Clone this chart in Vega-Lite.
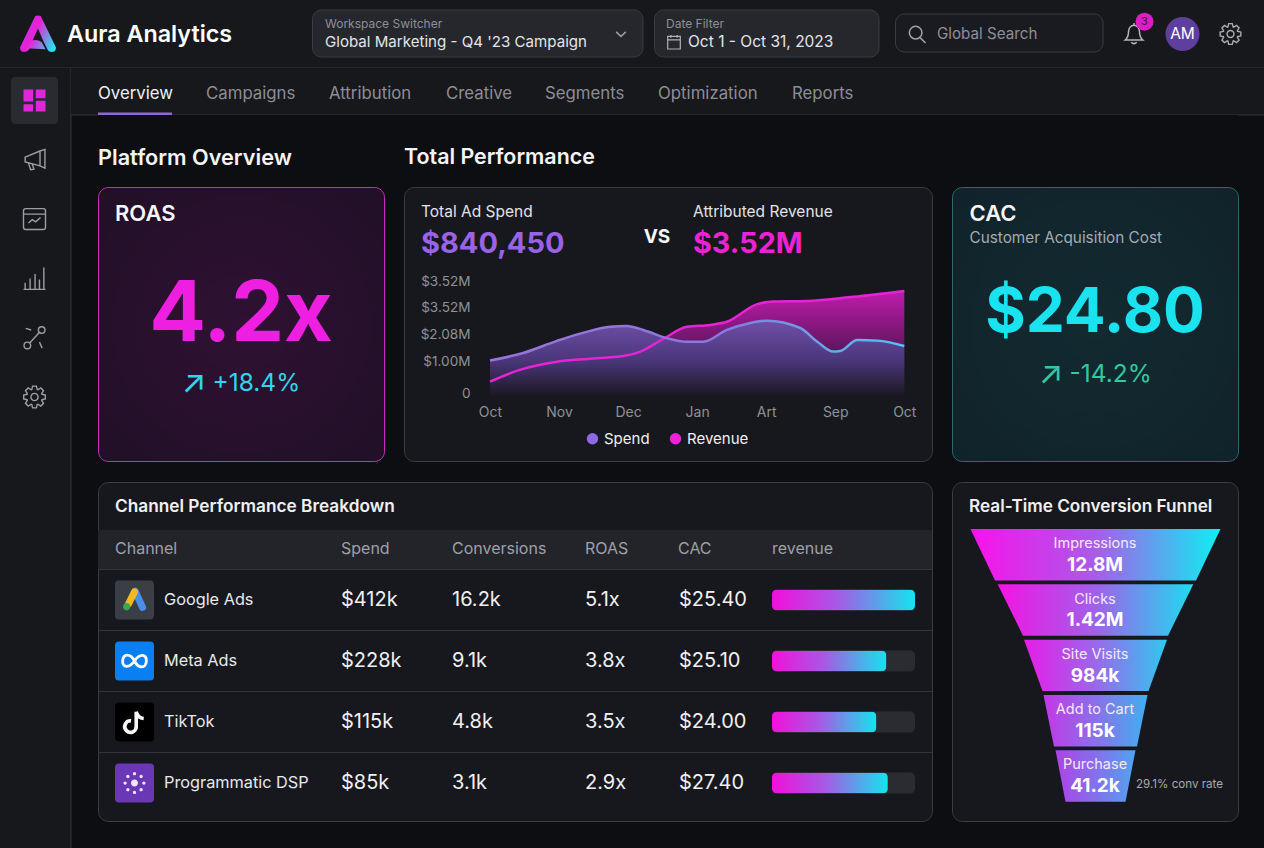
{
"$schema":"https://vega.github.io/schema/vega-lite/v6.json",
"description":"Aura Analytics marketing dashboard",
"background":"#0d0e11",
"padding":{"left":-1,"top":0,"right":0,"bottom":0},
"config":{"font":"Inter","view":{"stroke":null},"text":{"font":"Inter"},"axis":{"labelFont":"Inter"},"legend":{"labelFont":"Inter"}},
"datasets":{
 "series":[
  {"series":"Spend","t":0,"v":1.25},{"series":"Spend","t":0.48,"v":1.52},{"series":"Spend","t":0.97,"v":1.95},{"series":"Spend","t":1.41,"v":2.28},{"series":"Spend","t":1.74,"v":2.45},{"series":"Spend","t":1.98,"v":2.48},{"series":"Spend","t":2.22,"v":2.34},{"series":"Spend","t":2.56,"v":2.05},{"series":"Spend","t":2.85,"v":1.92},{"series":"Spend","t":3.09,"v":1.92},{"series":"Spend","t":3.43,"v":2.34},{"series":"Spend","t":3.77,"v":2.59},{"series":"Spend","t":4.01,"v":2.67},{"series":"Spend","t":4.49,"v":2.41},{"series":"Spend","t":4.74,"v":1.92},{"series":"Spend","t":4.97,"v":1.57},{"series":"Spend","t":5.07,"v":1.59},{"series":"Spend","t":5.32,"v":1.98},{"series":"Spend","t":5.61,"v":1.96},{"series":"Spend","t":6,"v":1.77},
  {"series":"Revenue","t":0,"v":0.5},{"series":"Revenue","t":0.43,"v":0.92},{"series":"Revenue","t":0.97,"v":1.21},{"series":"Revenue","t":1.41,"v":1.31},{"series":"Revenue","t":1.93,"v":1.41},{"series":"Revenue","t":2.17,"v":1.56},{"series":"Revenue","t":2.51,"v":2.02},{"series":"Revenue","t":2.85,"v":2.45},{"series":"Revenue","t":3.19,"v":2.52},{"series":"Revenue","t":3.43,"v":2.63},{"series":"Revenue","t":3.87,"v":3.26},{"series":"Revenue","t":4.1,"v":3.35},{"series":"Revenue","t":4.59,"v":3.37},{"series":"Revenue","t":5.26,"v":3.52},{"series":"Revenue","t":6,"v":3.73}
 ],
 "channels":[
  {"channel":"Google Ads","spend":"$412k","conversions":"16.2k","roas":"5.1x","cac":"$25.40","revenue":100},
  {"channel":"Meta Ads","spend":"$228k","conversions":"9.1k","roas":"3.8x","cac":"$25.10","revenue":80},
  {"channel":"TikTok","spend":"$115k","conversions":"4.8k","roas":"3.5x","cac":"$24.00","revenue":73},
  {"channel":"Programmatic DSP","spend":"$85k","conversions":"3.1k","roas":"2.9x","cac":"$27.40","revenue":81}
 ],
 "funnel":[
  {"stage":"Impressions","depth":0,"left":-125,"right":125},{"stage":"Impressions","depth":0.93,"left":-100.5,"right":100.5},
  {"stage":"Clicks","depth":1,"left":-97.8,"right":97.8},{"stage":"Clicks","depth":1.93,"left":-72.5,"right":72.5},
  {"stage":"Site Visits","depth":2,"left":-71.5,"right":71.5},{"stage":"Site Visits","depth":2.93,"left":-53,"right":53},
  {"stage":"Add to Cart","depth":3,"left":-52,"right":52},{"stage":"Add to Cart","depth":3.93,"left":-41.5,"right":41.5},
  {"stage":"Purchase","depth":4,"left":-40,"right":40},{"stage":"Purchase","depth":4.93,"left":-30,"right":30}
 ],
 "stages":[
  {"stage":"Impressions","value":"12.8M"},{"stage":"Clicks","value":"1.42M"},{"stage":"Site Visits","value":"984k"},{"stage":"Add to Cart","value":"115k"},{"stage":"Purchase","value":"41.2k"}
 ],
 "nav":[{"icon":"dashboard"},{"icon":"campaigns"},{"icon":"charts"},{"icon":"bars"},{"icon":"paths"},{"icon":"settings"}]
},
"bounds":"flush",
"spacing":0,
"resolve":{"scale":{"color":"independent","shape":"independent"}},
"vconcat":[
{
 "width":1264,"height":68,
 "view":{"fill":"#17181c"},
 "resolve":{"scale":{"x":"independent","y":"independent"}},
 "layer":[
  {"data":{"values":[{"k":"line"}]},"mark":{"type":"rule","color":"#33353b"},"encoding":{"y":{"datum":0,"type":"quantitative","scale":{"domain":[0,1]},"axis":null}}},
  {"data":{"values":[{"k":"Workspace"}]},"mark":{"type":"rect","fill":"#25272c","stroke":"#3a3c43","cornerRadius":9},"encoding":{"x":{"field":"k","type":"nominal","scale":{"type":"band","domain":["Workspace"],"range":[312.5,643],"padding":0},"axis":null},"y":{"field":"k","type":"nominal","scale":{"type":"band","domain":["Workspace"],"range":[10,57],"padding":0},"axis":null}}},
  {"data":{"values":[{"k":"Date"}]},"mark":{"type":"rect","fill":"#25272c","stroke":"#3a3c43","cornerRadius":9},"encoding":{"x":{"field":"k","type":"nominal","scale":{"type":"band","domain":["Date"],"range":[654.5,879],"padding":0},"axis":null},"y":{"field":"k","type":"nominal","scale":{"type":"band","domain":["Date"],"range":[10,57],"padding":0},"axis":null}}},
  {"data":{"values":[{"k":"Search"}]},"mark":{"type":"rect","fill":"#1a1b20","stroke":"#3a3c43","cornerRadius":9},"encoding":{"x":{"field":"k","type":"nominal","scale":{"type":"band","domain":["Search"],"range":[895.5,1103],"padding":0},"axis":null},"y":{"field":"k","type":"nominal","scale":{"type":"band","domain":["Search"],"range":[14,52],"padding":0},"axis":null}}},
  {"data":{"values":[{"k":"logo"}]},"mark":{"type":"point","filled":true,"opacity":1,"size":1296,"shape":"M-.15,-1Q0,-1.05 .15,-1L1,.75Q1,1 .75,1Q.6,1 .55,.9L.3,.4L0,-.3L-.3,.35Q0,.3 .2,.45L.42,.85L-.45,.8Q-.6,1 -.75,1Q-1,1 -1,.75Z","color":{"gradient":"linear","x1":0,"y1":0.25,"x2":1,"y2":0.75,"stops":[{"offset":0,"color":"#b43cec"},{"offset":0.4,"color":"#ec1ed8"},{"offset":1,"color":"#22e6ee"}]}},"encoding":{"x":{"field":"k","type":"nominal","scale":{"type":"point","domain":["logo"],"range":[38,38]},"axis":null}}},
  {"data":{"values":[{"k":"chevron"}]},"mark":{"type":"point","filled":false,"opacity":1,"size":144,"shape":"M-.8,-.35L0,.4L.8,-.35","color":"#9a9ca4","strokeWidth":1.5},"encoding":{"x":{"field":"k","type":"nominal","scale":{"type":"point","domain":["chevron"],"range":[621,621]},"axis":null}}},
  {"data":{"values":[{"k":"calendar"}]},"mark":{"type":"point","filled":false,"opacity":1,"size":196,"shape":"M-.9,-.8H.9V1H-.9ZM-.9,-.3H.9M-.45,-1V-.6M.45,-1V-.6","color":"#b0b2b8","strokeWidth":1.2},"encoding":{"x":{"field":"k","type":"nominal","scale":{"type":"point","domain":["calendar"],"range":[674,674]},"axis":null},"y":{"field":"k","type":"nominal","scale":{"type":"point","domain":["calendar"],"range":[42,42]},"axis":null}}},
  {"data":{"values":[{"k":"search"}]},"mark":{"type":"point","filled":false,"opacity":1,"size":324,"shape":"M-.85,-.15A.7,.7 0 1 0 .55,-.15A.7,.7 0 1 0 -.85,-.15ZM.35,.4L.95,1","color":"#a0a2a8","strokeWidth":1.5},"encoding":{"x":{"field":"k","type":"nominal","scale":{"type":"point","domain":["search"],"range":[917,917]},"axis":null}}},
  {"data":{"values":[{"k":"bell"}]},"mark":{"type":"point","filled":false,"opacity":1,"size":484,"shape":"M-.8,.55Q-.5,.3 -.5,-.2A.5,.6 0 0 1 .5,-.2Q.5,.3 .8,.55ZM-.25,.75Q0,1 .25,.75M0,-.8V-1","color":"#b4b6bc","strokeWidth":1.5},"encoding":{"x":{"field":"k","type":"nominal","scale":{"type":"point","domain":["bell"],"range":[1134,1134]},"axis":null}}},
  {"data":{"values":[{"k":"badge"}]},"mark":{"type":"circle","opacity":1,"size":324,"color":"#d91fc4"},"encoding":{"x":{"field":"k","type":"nominal","scale":{"type":"point","domain":["badge"],"range":[1144.5,1144.5]},"axis":null},"y":{"field":"k","type":"nominal","scale":{"type":"point","domain":["badge"],"range":[21.7,21.7]},"axis":null}}},
  {"data":{"values":[{"k":"avatar"}]},"mark":{"type":"circle","opacity":1,"size":1156,"color":"#5f3f9e"},"encoding":{"x":{"field":"k","type":"nominal","scale":{"type":"point","domain":["avatar"],"range":[1182.5,1182.5]},"axis":null}}},
  {"data":{"values":[{"k":"gear"}]},"mark":{"type":"point","filled":false,"opacity":1,"size":441,"shape":"M.677,-.246L.985,-.174L.985,.174L.677,.246L.653,.304L.819,.574L.574,.819L.304,.653L.246,.677L.174,.985L-.174,.985L-.246,.677L-.304,.653L-.574,.819L-.819,.574L-.653,.304L-.677,.246L-.985,.174L-.985,-.174L-.677,-.246L-.653,-.304L-.819,-.574L-.574,-.819L-.304,-.653L-.246,-.677L-.174,-.985L.174,-.985L.246,-.677L.304,-.653L.574,-.819L.819,-.574L.653,-.304ZM-.33,0A.33,.33 0 1 0 .33,0A.33,.33 0 1 0 -.33,0Z","color":"#a8aab0","strokeWidth":1.4},"encoding":{"x":{"field":"k","type":"nominal","scale":{"type":"point","domain":["gear"],"range":[1230.5,1230.5]},"axis":null}}},
  {"data":{"values":[{"t":"Aura Analytics"}]},"mark":{"type":"text","align":"left","dx":-565,"dy":1,"fontSize":23.3,"fontWeight":600,"color":"#ffffff"},"encoding":{"text":{"field":"t"}}},
  {"data":{"values":[{"t":"Workspace Switcher"}]},"mark":{"type":"text","align":"left","dx":-307,"dy":-10.5,"fontSize":12,"color":"#8d8f99"},"encoding":{"text":{"field":"t"}}},
  {"data":{"values":[{"t":"Global Marketing - Q4 '23 Campaign"}]},"mark":{"type":"text","align":"left","dx":-307,"dy":8,"fontSize":15.1,"color":"#e4e5e9"},"encoding":{"text":{"field":"t"}}},
  {"data":{"values":[{"t":"Date Filter"}]},"mark":{"type":"text","align":"left","dx":34,"dy":-10.5,"fontSize":12,"color":"#8d8f99"},"encoding":{"text":{"field":"t"}}},
  {"data":{"values":[{"t":"Oct 1 - Oct 31, 2023"}]},"mark":{"type":"text","align":"left","dx":56,"dy":8,"fontSize":15.5,"color":"#e4e5e9"},"encoding":{"text":{"field":"t"}}},
  {"data":{"values":[{"t":"Global Search"}]},"mark":{"type":"text","align":"left","dx":305,"dy":0,"fontSize":15.2,"color":"#8d8f99"},"encoding":{"text":{"field":"t"}}},
  {"data":{"values":[{"t":"3"}]},"mark":{"type":"text","dx":512.5,"dy":-12,"fontSize":11,"color":"#4a0a46"},"encoding":{"text":{"field":"t"}}},
  {"data":{"values":[{"t":"AM"}]},"mark":{"type":"text","dx":550.5,"fontSize":15.5,"color":"#ffffff"},"encoding":{"text":{"field":"t"}}}
 ]
},
{
 "bounds":"flush","spacing":0,
 "resolve":{"scale":{"color":"independent","shape":"independent"}},
 "hconcat":[
 {
  "width":71,"height":780,
  "view":{"fill":"#17181c"},
  "data":{"name":"nav"},
  "resolve":{"scale":{"x":"independent"}},
  "layer":[
   {"data":{"values":[{"k":"line"}]},"mark":{"type":"rule","color":"#33353b"},"encoding":{"x":{"datum":1,"type":"quantitative","scale":{"domain":[0,1]},"axis":null}}},
   {"transform":[{"filter":"datum.icon == 'dashboard'"}],"mark":{"type":"point","filled":true,"opacity":1,"size":2209,"shape":"M-.8,-1H.8Q1,-1 1,-.8V.8Q1,1 .8,1H-.8Q-1,1 -1,.8V-.8Q-1,-1 -.8,-1Z","color":"#2a2b31"},"encoding":{"x":{"datum":"nav","type":"nominal","scale":{"type":"point","domain":["nav"],"range":[34.5,34.5]},"axis":null},"y":{"field":"icon","type":"nominal","sort":null,"scale":{"type":"point","domain":["dashboard","campaigns","charts","bars","paths","settings"],"range":[32.5,329],"padding":0},"axis":null}}},
   {"transform":[{"filter":"datum.icon == 'dashboard'"}],"mark":{"type":"point","filled":true,"opacity":1,"size":484,"shape":"M-1,-1H-.12V.1H-1ZM.12,-1H1V-.2H.12ZM-1,.33H-.12V1H-1ZM.12,.03H1V1H.12Z","color":"#e026d8"},"encoding":{"x":{"datum":"nav","type":"nominal","scale":{"type":"point","domain":["nav"],"range":[34.5,34.5]},"axis":null},"y":{"field":"icon","type":"nominal","sort":null,"axis":null}}},
   {"transform":[{"filter":"datum.icon != 'dashboard'"}],"mark":{"type":"point","filled":false,"opacity":1,"size":484,"color":"#9c9ea5","strokeWidth":1.4},"encoding":{
     "x":{"datum":"nav","type":"nominal","scale":{"type":"point","domain":["nav"],"range":[34.5,34.5]},"axis":null},
     "y":{"field":"icon","type":"nominal","sort":null,"axis":null},
     "shape":{"field":"icon","type":"nominal","legend":null,"scale":{"domain":["campaigns","charts","bars","paths","settings"],"range":[
      "M-.85,-.25L.5,-.8L.95,-.95V.75L.5,.55L-.85,.2ZM.5,-.8V.55M-.55,.3L-.35,.9L-.05,.85L-.2,.4",
      "M-.8,-.95H.8Q1,-.95 1,-.75V.75Q1,.95 .8,.95H-.8Q-1,.95 -1,.75V-.75Q-1,-.95 -.8,-.95ZM-1,-.45H1M-.55,.35L-.2,.05L.1,.25L.55,-.15",
      "M-1,1H1M-.85,1V.4M-.4,1V0M.05,1V-.4M.45,1V.1M.85,1V-1",
      "M-.95,.7A.3,.3 0 1 0 -.35,.7A.3,.3 0 1 0 -.95,.7ZM.35,-.7A.3,.3 0 1 0 .95,-.7A.3,.3 0 1 0 .35,-.7ZM-.43,.48L.43,-.48M-.8,-.85L-.3,-.7M.45,.4L.7,.95",
      "M.677,-.246L.985,-.174L.985,.174L.677,.246L.653,.304L.819,.574L.574,.819L.304,.653L.246,.677L.174,.985L-.174,.985L-.246,.677L-.304,.653L-.574,.819L-.819,.574L-.653,.304L-.677,.246L-.985,.174L-.985,-.174L-.677,-.246L-.653,-.304L-.819,-.574L-.574,-.819L-.304,-.653L-.246,-.677L-.174,-.985L.174,-.985L.246,-.677L.304,-.653L.574,-.819L.819,-.574L.653,-.304ZM-.33,0A.33,.33 0 1 0 .33,0A.33,.33 0 1 0 -.33,0Z"
     ]}}
   }}
  ]
 },
 {
  "bounds":"flush","spacing":0,
  "resolve":{"scale":{"color":"independent","shape":"independent"}},
  "vconcat":[
  {
   "width":1193,"height":47,
   "view":{"fill":"#17181c"},
   "resolve":{"scale":{"x":"independent","y":"independent"}},
   "layer":[
    {"data":{"values":[{"k":"line"}]},"mark":{"type":"rule","color":"#33353b"},"encoding":{"y":{"datum":0,"type":"quantitative","scale":{"domain":[0,1]},"axis":null}}},
    {"data":{"values":[{"k":"Overview"}]},"mark":{"type":"rect","color":"#8e68d8"},"encoding":{"x":{"field":"k","type":"nominal","scale":{"type":"band","domain":["Overview"],"range":[27,101],"padding":0},"axis":null},"y":{"field":"k","type":"nominal","scale":{"type":"band","domain":["Overview"],"range":[44.5,47],"padding":0},"axis":null}}},
    {"data":{"values":[{"t":"Overview"}]},"mark":{"type":"text","align":"left","dx":-569.5,"dy":2,"fontSize":16.8,"color":"#f0f0f2"},"encoding":{"text":{"field":"t"}}},
    {"data":{"values":[{"t":"Campaigns"}]},"mark":{"type":"text","align":"left","dx":-461.5,"dy":2,"fontSize":16.8,"color":"#8c8e96"},"encoding":{"text":{"field":"t"}}},
    {"data":{"values":[{"t":"Attribution"}]},"mark":{"type":"text","align":"left","dx":-338.5,"dy":2,"fontSize":16.8,"color":"#8c8e96"},"encoding":{"text":{"field":"t"}}},
    {"data":{"values":[{"t":"Creative"}]},"mark":{"type":"text","align":"left","dx":-221.5,"dy":2,"fontSize":16.8,"color":"#8c8e96"},"encoding":{"text":{"field":"t"}}},
    {"data":{"values":[{"t":"Segments"}]},"mark":{"type":"text","align":"left","dx":-122.5,"dy":2,"fontSize":16.8,"color":"#8c8e96"},"encoding":{"text":{"field":"t"}}},
    {"data":{"values":[{"t":"Optimization"}]},"mark":{"type":"text","align":"left","dx":-9.5,"dy":2,"fontSize":16.8,"color":"#8c8e96"},"encoding":{"text":{"field":"t"}}},
    {"data":{"values":[{"t":"Reports"}]},"mark":{"type":"text","align":"left","dx":124.5,"dy":2,"fontSize":16.8,"color":"#8c8e96"},"encoding":{"text":{"field":"t"}}}
   ]
  },
  {
   "bounds":"flush","spacing":26,
   "resolve":{"scale":{"color":"independent","shape":"independent"}},
   "hconcat":[
   {"width":1,"height":1,"data":{"values":[{"t":""}]},"mark":"text","encoding":{"text":{"field":"t"}}},
   {
    "bounds":"full","spacing":0,
    "resolve":{"scale":{"color":"independent","shape":"independent"}},
    "vconcat":[
     {
      "width":1140,"height":70.5,
      "view":{"fill":"#0d0e11"},
      "layer":[
       {"data":{"values":[{"t":"Platform Overview"}]},"mark":{"type":"text","align":"left","dx":-570,"dy":7.5,"fontSize":21.7,"fontWeight":600,"color":"#f4f4f6"},"encoding":{"text":{"field":"t"}}},
       {"data":{"values":[{"t":"Total Performance"}]},"mark":{"type":"text","align":"left","dx":-264,"dy":7.5,"fontSize":21.4,"fontWeight":600,"color":"#f4f4f6"},"encoding":{"text":{"field":"t"}}}
      ]
     },
     {
      "bounds":"flush","spacing":20,
      "resolve":{"scale":{"color":"independent","shape":"independent"}},
      "hconcat":[
      {
       "width":286,"height":274,
       "view":{"fill":{"gradient":"radial","x1":0.5,"y1":0.5,"r1":0,"x2":0.5,"y2":0.5,"r2":0.75,"stops":[{"offset":0,"color":"#2f1133"},{"offset":1,"color":"#1f1025"}]},"stroke":"#c92cbc","cornerRadius":10},
       "layer":[
        {"data":{"values":[{"t":"ROAS"}]},"mark":{"type":"text","align":"left","dx":-126,"dy":-110,"fontSize":22,"fontWeight":600,"color":"#f6f6f8"},"encoding":{"text":{"field":"t"}}},
        {"data":{"values":[{"t":"4.2x"}]},"mark":{"type":"text","dy":-8,"fontSize":84,"fontWeight":700,"color":"#ee1fe0"},"encoding":{"text":{"field":"t"}}},
        {"data":{"values":[{"t":"↗"}]},"mark":{"type":"text","dx":-47,"dy":59,"fontSize":32,"color":"#2fd6ee"},"encoding":{"text":{"field":"t"}}},
        {"data":{"values":[{"t":"+18.4%"}]},"mark":{"type":"text","align":"left","dx":-28.5,"dy":59.5,"fontSize":24.5,"color":"#2fd6ee"},"encoding":{"text":{"field":"t"}}}
       ]
      },
      {
       "width":528,"height":274,
       "view":{"fill":"#17181d","stroke":"#3a3c42","cornerRadius":10},
       "layer":[
        {
         "data":{"name":"series"},
         "encoding":{
          "x":{"field":"t","type":"quantitative","scale":{"domain":[0,6],"range":[86,500.3]},"axis":{"values":[0,1,2,3,4,5,6],"labelExpr":"['Oct','Nov','Dec','Jan','Art','Sep','Oct'][datum.value]","orient":"bottom","offset":-65.3,"title":null,"domain":false,"ticks":false,"grid":false,"labelPadding":10,"labelFontSize":14,"labelColor":"#8f9199","labelFlush":false,"labelOverlap":false}},
          "y":{"field":"v","type":"quantitative","scale":{"domain":[0,4],"range":[208.7,96.3]},"axis":{"values":[0,1.13,2.09,3.06,4],"labelExpr":"datum.value == 0 ? '0' : datum.value < 1.5 ? '$1.00M' : datum.value < 2.5 ? '$2.08M' : '$3.52M'","orient":"left","offset":-66,"title":null,"domain":false,"ticks":false,"grid":false,"labelPadding":0,"labelOffset":-2,"labelFontSize":13.6,"labelColor":"#8f9199","labelOverlap":false}}
         },
         "layer":[
          {"transform":[{"filter":"datum.series == 'Revenue'"}],"mark":{"type":"area","interpolate":"monotone","color":{"gradient":"linear","x1":0,"y1":0,"x2":0,"y2":1,"stops":[{"offset":0,"color":"#c01cac"},{"offset":0.5,"color":"#6a1668"},{"offset":1,"color":"#1a141f"}]}}},
          {"transform":[{"filter":"datum.series == 'Spend'"}],"mark":{"type":"area","interpolate":"monotone","color":{"gradient":"linear","x1":0,"y1":0,"x2":0,"y2":1,"stops":[{"offset":0,"color":"#6f4fa8"},{"offset":0.55,"color":"#4a3578"},{"offset":1,"color":"#1b1822"}]}}},
          {"data":{"values":[{"tick":0},{"tick":1.13},{"tick":2.09},{"tick":3.06},{"tick":4}]},"mark":{"type":"rule","color":"#ffffff","opacity":0.16},"encoding":{"x":{"datum":-0.106,"type":"quantitative"},"x2":{"datum":6},"y":{"field":"tick","type":"quantitative"}}},
          {"transform":[{"filter":"datum.series == 'Revenue'"}],"mark":{"type":"line","interpolate":"monotone","strokeWidth":2.5,"color":"#e624d6"}},
          {"transform":[{"filter":"datum.series == 'Spend'"}],"mark":{"type":"line","interpolate":"monotone","strokeWidth":2.5,"color":{"gradient":"linear","x1":0,"y1":0,"x2":1,"y2":0,"stops":[{"offset":0,"color":"#9a74dc"},{"offset":0.55,"color":"#8a78dc"},{"offset":1,"color":"#4cc8f0"}]}}},
          {"mark":{"type":"circle","size":0,"opacity":1},"encoding":{"color":{"field":"series","type":"nominal","scale":{"domain":["Spend","Revenue"],"range":["#8f68e8","#ee22dc"]},"legend":{"title":null,"orient":"none","legendX":181,"legendY":244,"direction":"horizontal","symbolType":"circle","symbolSize":130,"symbolOpacity":1,"symbolStrokeWidth":0,"labelFontSize":15,"labelColor":"#f0f0f2","columnPadding":18,"labelOffset":4}}}}
         ]
        },
        {"data":{"values":[{"t":"Total Ad Spend"}]},"mark":{"type":"text","align":"left","dx":-247,"dy":-112,"fontSize":15.5,"color":"#e2e3e7"},"encoding":{"text":{"field":"t"}}},
        {"data":{"values":[{"t":"$840,450"}]},"mark":{"type":"text","align":"left","dx":-247,"dy":-80,"fontSize":29,"fontWeight":700,"color":"#9a62e6"},"encoding":{"text":{"field":"t"}}},
        {"data":{"values":[{"t":"VS"}]},"mark":{"type":"text","dx":-11,"dy":-87.5,"fontSize":19,"fontWeight":700,"color":"#f6f6f8"},"encoding":{"text":{"field":"t"}}},
        {"data":{"values":[{"t":"Attributed Revenue"}]},"mark":{"type":"text","align":"left","dx":25,"dy":-112,"fontSize":15.5,"color":"#e2e3e7"},"encoding":{"text":{"field":"t"}}},
        {"data":{"values":[{"t":"$3.52M"}]},"mark":{"type":"text","align":"left","dx":25,"dy":-80,"fontSize":28.8,"fontWeight":700,"color":"#ee22d4"},"encoding":{"text":{"field":"t"}}}
       ]
      },
      {
       "width":286,"height":274,
       "view":{"fill":{"gradient":"radial","x1":0.5,"y1":0.5,"r1":0,"x2":0.5,"y2":0.5,"r2":0.75,"stops":[{"offset":0,"color":"#132a31"},{"offset":1,"color":"#10222a"}]},"stroke":"#2c6a70","cornerRadius":10},
       "layer":[
        {"data":{"values":[{"t":"CAC"}]},"mark":{"type":"text","align":"left","dx":-125.5,"dy":-110,"fontSize":22,"fontWeight":600,"color":"#f6f6f8"},"encoding":{"text":{"field":"t"}}},
        {"data":{"values":[{"t":"Customer Acquisition Cost"}]},"mark":{"type":"text","align":"left","dx":-125.5,"dy":-86,"fontSize":15.3,"color":"#a4acb2"},"encoding":{"text":{"field":"t"}}},
        {"data":{"values":[{"t":"$24.80"}]},"mark":{"type":"text","dy":-11,"fontSize":62,"fontWeight":700,"color":"#19e3ee"},"encoding":{"text":{"field":"t"}}},
        {"data":{"values":[{"t":"↗"}]},"mark":{"type":"text","dx":-44,"dy":50,"fontSize":32,"color":"#34c8a0"},"encoding":{"text":{"field":"t"}}},
        {"data":{"values":[{"t":"-14.2%"}]},"mark":{"type":"text","align":"left","dx":-25.5,"dy":50.5,"fontSize":24.5,"color":"#34c8a0"},"encoding":{"text":{"field":"t"}}}
       ]
      }
      ]
     },
     {"width":1,"height":19,"view":{"fill":"#0d0e11"},"data":{"values":[{"t":""}]},"mark":"text","encoding":{"text":{"field":"t"}}},
     {
     "bounds":"flush","spacing":20,
     "resolve":{"scale":{"color":"independent","shape":"independent"}},
     "hconcat":[
     {
      "width":834,"height":339,
      "view":{"fill":"#17181d","stroke":"#3a3c42","cornerRadius":10},
      "resolve":{"scale":{"y":"independent","x":"independent"}},
      "layer":[
       {"data":{"values":[{"k":"header"}]},"mark":{"type":"rect","color":"#22242a"},"encoding":{"y":{"field":"k","type":"nominal","scale":{"type":"band","domain":["header"],"range":[48,87],"padding":0},"axis":null}}},
       {"data":{"values":[{"t":"Channel Performance Breakdown"}]},"mark":{"type":"text","align":"left","dx":-400,"dy":-145,"fontSize":17.25,"fontWeight":600,"color":"#f0f0f2"},"encoding":{"text":{"field":"t"}}},
       {"data":{"values":[{"t":"Channel"}]},"mark":{"type":"text","align":"left","dx":-400,"dy":-102.5,"fontSize":16,"color":"#9ea0a8"},"encoding":{"text":{"field":"t"}}},
       {"data":{"values":[{"t":"Spend"}]},"mark":{"type":"text","align":"left","dx":-174,"dy":-102.5,"fontSize":16,"color":"#9ea0a8"},"encoding":{"text":{"field":"t"}}},
       {"data":{"values":[{"t":"Conversions"}]},"mark":{"type":"text","align":"left","dx":-63,"dy":-102.5,"fontSize":16,"color":"#9ea0a8"},"encoding":{"text":{"field":"t"}}},
       {"data":{"values":[{"t":"ROAS"}]},"mark":{"type":"text","align":"left","dx":70,"dy":-102.5,"fontSize":16,"color":"#9ea0a8"},"encoding":{"text":{"field":"t"}}},
       {"data":{"values":[{"t":"CAC"}]},"mark":{"type":"text","align":"left","dx":163,"dy":-102.5,"fontSize":16,"color":"#9ea0a8"},"encoding":{"text":{"field":"t"}}},
       {"data":{"values":[{"t":"revenue"}]},"mark":{"type":"text","align":"left","dx":257,"dy":-102.5,"fontSize":16,"color":"#9ea0a8"},"encoding":{"text":{"field":"t"}}},
       {
        "data":{"name":"channels"},
        "encoding":{"y":{"field":"channel","type":"nominal","sort":null,"scale":{"type":"band","range":[87.5,331.5],"padding":0},"axis":null}},
        "resolve":{"scale":{"x":"independent"}},
        "layer":[
         {"mark":{"type":"rule","color":"#33353b"},"encoding":{"y":{"field":"channel","type":"nominal","sort":null,"bandPosition":0}}},
         {
          "encoding":{"x":{"datum":"icon","type":"nominal","scale":{"type":"point","domain":["icon"],"range":[36.5,36.5]},"axis":null}},
          "layer":[
           {"mark":{"type":"point","filled":true,"opacity":1,"size":1521,"shape":"M-.8,-1H.8Q1,-1 1,-.8V.8Q1,1 .8,1H-.8Q-1,1 -1,.8V-.8Q-1,-1 -.8,-1Z"},"encoding":{"color":{"field":"channel","type":"nominal","legend":null,"scale":{"domain":["Google Ads","Meta Ads","TikTok","Programmatic DSP"],"range":["#3b3e45","#0a7ff2","#000000","#6a38b6"]}}}},
           {"transform":[{"filter":"datum.channel == 'Google Ads'"}],"mark":{"type":"point","filled":false,"opacity":1,"size":729,"shape":"M.05,-.65L.6,.55","color":"#4a8ee8","strokeWidth":7,"strokeCap":"round"}},
           {"transform":[{"filter":"datum.channel == 'Google Ads'"}],"mark":{"type":"point","filled":false,"opacity":1,"size":729,"shape":"M0,-.6L-.45,.3","color":"#f5b81e","strokeWidth":7,"strokeCap":"round"}},
           {"transform":[{"filter":"datum.channel == 'Google Ads'"}],"mark":{"type":"point","filled":true,"opacity":1,"size":729,"shape":"M-.85,.5A.27,.27 0 1 0 -.31,.5A.27,.27 0 1 0 -.85,.5Z","color":"#38a84e"}},
           {"transform":[{"filter":"datum.channel == 'Meta Ads'"}],"mark":{"type":"point","filled":false,"opacity":1,"size":625,"shape":"M0,0C-.3,-.6 -.9,-.65 -.95,0C-.95,.6 -.4,.55 0,0C.4,-.6 .95,-.6 .95,0C.9,.65 .3,.6 0,0Z","color":"#ffffff","strokeWidth":2.8}},
           {"transform":[{"filter":"datum.channel == 'TikTok'"}],"mark":{"type":"point","filled":false,"opacity":1,"size":529,"shape":"M.15,-.9V.35A.5,.5 0 1 1 -.3,-.1M.15,-.9Q.25,-.35 .8,-.3","color":"#f8f8f8","strokeWidth":3.6}},
           {"transform":[{"filter":"datum.channel == 'Programmatic DSP'"}],"mark":{"type":"point","filled":true,"opacity":1,"size":625,"shape":"M-.28,0A.28,.28 0 1 0 .28,0A.28,.28 0 1 0 -.28,0ZM-.13,-.75A.13,.13 0 1 0 .13,-.75A.13,.13 0 1 0 -.13,-.75ZM.4,-.53A.13,.13 0 1 0 .66,-.53A.13,.13 0 1 0 .4,-.53ZM.62,0A.13,.13 0 1 0 .88,0A.13,.13 0 1 0 .62,0ZM.4,.53A.13,.13 0 1 0 .66,.53A.13,.13 0 1 0 .4,.53ZM-.13,.75A.13,.13 0 1 0 .13,.75A.13,.13 0 1 0 -.13,.75ZM-.66,.53A.13,.13 0 1 0 -.4,.53A.13,.13 0 1 0 -.66,.53ZM-.88,0A.13,.13 0 1 0 -.62,0A.13,.13 0 1 0 -.88,0ZM-.66,-.53A.13,.13 0 1 0 -.4,-.53A.13,.13 0 1 0 -.66,-.53Z","color":"#efe6fa"}}
          ]
         },
         {"mark":{"type":"text","align":"left","dx":-351,"fontSize":16.3,"color":"#e8e9ec"},"encoding":{"text":{"field":"channel"}}},
         {"mark":{"type":"text","align":"left","dx":-174,"fontSize":20,"color":"#f0f0f2"},"encoding":{"text":{"field":"spend"}}},
         {"mark":{"type":"text","align":"left","dx":-63,"fontSize":20,"color":"#f0f0f2"},"encoding":{"text":{"field":"conversions"}}},
         {"mark":{"type":"text","align":"left","dx":70,"fontSize":20,"color":"#f0f0f2"},"encoding":{"text":{"field":"roas"}}},
         {"mark":{"type":"text","align":"left","dx":164,"fontSize":20,"color":"#f0f0f2"},"encoding":{"text":{"field":"cac"}}},
         {"mark":{"type":"bar","size":21,"cornerRadius":5,"color":"#2a2c32"},"encoding":{"x":{"datum":100,"type":"quantitative","scale":{"domain":[0,100],"range":[674,817]},"axis":null}}},
         {"mark":{"type":"bar","size":21,"cornerRadius":5,"color":{"gradient":"linear","x1":0,"y1":0,"x2":1,"y2":0,"stops":[{"offset":0,"color":"#f30fdc"},{"offset":0.45,"color":"#a858e4"},{"offset":1,"color":"#14e4ee"}]}},"encoding":{"x":{"field":"revenue","type":"quantitative","scale":{"domain":[0,100],"range":[674,817]},"axis":null}}}
        ]
       }
      ]
     },
     {
      "width":286,"height":339,
      "view":{"fill":"#17181d","stroke":"#3a3c42","cornerRadius":10},
      "resolve":{"scale":{"y":"independent"}},
      "layer":[
       {
        "data":{"name":"funnel"},
        "encoding":{
         "y":{"field":"depth","type":"quantitative","scale":{"domain":[0,4.93],"range":[47,319.7]},"axis":null},
         "x":{"field":"left","type":"quantitative","scale":{"domain":[-143.5,142.5],"range":[0,286]},"axis":null},
         "x2":{"field":"right"}
        },
        "layer":[
         {"transform":[{"filter":"datum.stage == 'Impressions'"}],"mark":{"type":"area","orient":"horizontal","color":{"gradient":"linear","x1":0,"y1":0,"x2":1,"y2":0,"stops":[{"offset":0,"color":"#fb10ec"},{"offset":0.5,"color":"#a85ce8"},{"offset":1,"color":"#0cf0f2"}]}}},
         {"transform":[{"filter":"datum.stage == 'Clicks'"}],"mark":{"type":"area","orient":"horizontal","color":{"gradient":"linear","x1":0,"y1":0,"x2":1,"y2":0,"stops":[{"offset":0,"color":"#f414e4"},{"offset":0.5,"color":"#a060ea"},{"offset":1,"color":"#1edcf0"}]}}},
         {"transform":[{"filter":"datum.stage == 'Site Visits'"}],"mark":{"type":"area","orient":"horizontal","color":{"gradient":"linear","x1":0,"y1":0,"x2":1,"y2":0,"stops":[{"offset":0,"color":"#e81ce8"},{"offset":0.5,"color":"#9a68ea"},{"offset":1,"color":"#30c8f0"}]}}},
         {"transform":[{"filter":"datum.stage == 'Add to Cart'"}],"mark":{"type":"area","orient":"horizontal","color":{"gradient":"linear","x1":0,"y1":0,"x2":1,"y2":0,"stops":[{"offset":0,"color":"#c438e8"},{"offset":0.5,"color":"#8a70ea"},{"offset":1,"color":"#40b0f0"}]}}},
         {"transform":[{"filter":"datum.stage == 'Purchase'"}],"mark":{"type":"area","orient":"horizontal","color":{"gradient":"linear","x1":0,"y1":0,"x2":1,"y2":0,"stops":[{"offset":0,"color":"#ae42e8"},{"offset":0.5,"color":"#8470ea"},{"offset":1,"color":"#50a4f0"}]}}}
        ]
       },
       {"data":{"name":"stages"},"mark":{"type":"text","fontSize":14.5,"color":"#f6e8fb"},"encoding":{"text":{"field":"stage"},"y":{"field":"stage","type":"nominal","sort":null,"scale":{"type":"point","range":[62.3,283.3],"padding":0},"axis":null}}},
       {"data":{"name":"stages"},"mark":{"type":"text","fontSize":19,"fontWeight":700,"color":"#ffffff"},"encoding":{"text":{"field":"value"},"y":{"field":"stage","type":"nominal","sort":null,"scale":{"type":"point","range":[83.3,304],"padding":0},"axis":null}}},
       {"data":{"values":[{"t":"Real-Time Conversion Funnel"}]},"mark":{"type":"text","align":"left","dx":-126,"dy":-145,"fontSize":17.2,"fontWeight":600,"color":"#f0f0f2"},"encoding":{"text":{"field":"t"}}},
       {"data":{"values":[{"t":"29.1% conv rate"}]},"mark":{"type":"text","align":"left","dx":41,"dy":133.5,"fontSize":11.6,"color":"#a8aab0"},"encoding":{"text":{"field":"t"}}}
      ]
     }
     ]
    }
    ]
   }
   ]
  }
  ]
 }
 ]
}
]
}
